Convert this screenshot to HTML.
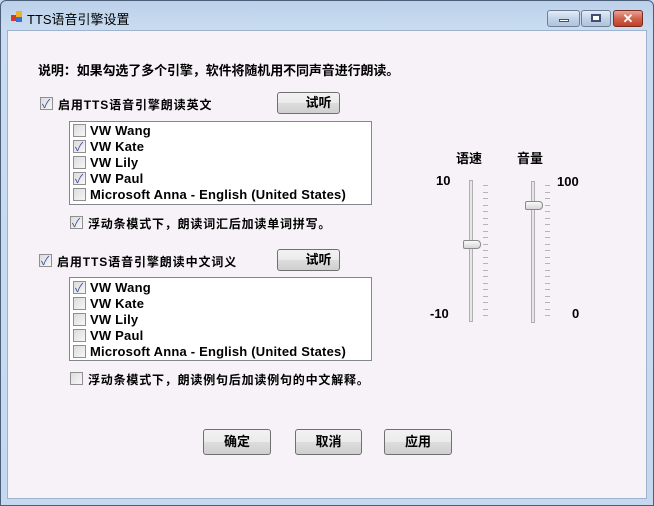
<!DOCTYPE html>
<html><head><meta charset="utf-8"><style>
*{box-sizing:border-box;margin:0;padding:0}
body{width:654px;height:506px;position:relative;overflow:hidden;background:#c9dcf1;font-family:"Liberation Sans","Noto Sans CJK SC",sans-serif;font-weight:bold;font-size:12px;color:#000}
.a{position:absolute;white-space:nowrap}
.c{letter-spacing:0.9px}
.l{font-size:13px;letter-spacing:0.2px}
.frame{left:0;top:0;width:654px;height:506px;background:linear-gradient(#bcd1ea,#c9dcf1 30px,#c4d9f0);border:1px solid #4b5f78;border-radius:6px 6px 0 0}
.client{left:7px;top:30px;width:640px;height:469px;background:#f6f2f7;border:1px solid #9fb3cc}
.cb{position:absolute;width:13px;height:13px;border:1px solid #8e8f8f;background:linear-gradient(135deg,#dcdcdc,#f7f7f7);}
.cb.on::after{content:"✓";position:absolute;left:1px;top:-3px;font-size:12px;color:#3d4f9b;font-weight:normal}
.btn{position:absolute;border:1px solid #707070;border-radius:3px;background:linear-gradient(#f2f2f2 0%,#ebebeb 50%,#dddddd 51%,#cfcfcf 100%);text-align:center;font-size:13px}
.lb{position:absolute;background:#fff;border:1px solid #828790}
.tick{position:absolute;width:5px;height:1px;background:#b5b5b5}
.wb{position:absolute;top:10px;height:17px;border:1px solid #6d7e95;border-radius:3px;background:linear-gradient(#e3ecf7,#c3d3e8 50%,#aec3de)}
.n{font-size:13px}
</style></head><body>
<div class="a frame"></div>
<div class="a" style="left:11px;top:11px;width:12px;height:12px">
<div class="a" style="left:0;top:4px;width:5px;height:6px;background:#d23b2a"></div>
<div class="a" style="left:5px;top:0;width:6px;height:6px;background:#f0b02a"></div>
<div class="a" style="left:5px;top:6px;width:6px;height:5px;background:#3b6fd2"></div></div>
<div class="a" style="left:27px;top:9px;font-weight:normal;font-size:13px">TTS语音引擎设置</div>
<div class="wb" style="left:547px;width:33px"><div class="a" style="left:11px;top:8px;width:10px;height:3px;background:#fff;border:1px solid #405070"></div></div>
<div class="wb" style="left:581px;width:30px"><div class="a" style="left:9px;top:3px;width:10px;height:8px;border:2px solid #405070;background:#fff"></div></div>
<div class="wb" style="left:613px;width:30px;background:linear-gradient(#e8a496,#d1624d 50%,#c0402a);border-color:#7a2b20;color:#fff;text-align:center;font-size:13px;line-height:15px">✕</div>
<div class="a client"></div>

<div class="a" style="left:38px;top:60px;font-size:13px;letter-spacing:-0.1px">说明：如果勾选了多个引擎，软件将随机用不同声音进行朗读。</div>

<div class="cb on" style="left:40px;top:97px"></div>
<div class="a c" style="left:58px;top:96px">启用TTS语音引擎朗读英文</div>
<div class="btn" style="left:277px;top:92px;width:63px;height:22px;line-height:20px;padding-left:20px">试听</div>
<div class="lb" style="left:69px;top:121px;width:303px;height:84px"></div>
<div class="cb" style="left:73px;top:124px"></div><div class="a l" style="left:90px;top:123px">VW Wang</div>
<div class="cb on" style="left:73px;top:140px"></div><div class="a l" style="left:90px;top:139px">VW Kate</div>
<div class="cb" style="left:73px;top:156px"></div><div class="a l" style="left:90px;top:155px">VW Lily</div>
<div class="cb on" style="left:73px;top:172px"></div><div class="a l" style="left:90px;top:171px">VW Paul</div>
<div class="cb" style="left:73px;top:188px"></div><div class="a l" style="left:90px;top:187px">Microsoft Anna - English (United States)</div>
<div class="cb on" style="left:70px;top:216px"></div>
<div class="a c" style="left:88px;top:215px;letter-spacing:0.8px">浮动条模式下，朗读词汇后加读单词拼写。</div>

<div class="cb on" style="left:39px;top:254px"></div>
<div class="a c" style="left:57px;top:253px">启用TTS语音引擎朗读中文词义</div>
<div class="btn" style="left:277px;top:249px;width:63px;height:22px;line-height:20px;padding-left:20px">试听</div>
<div class="lb" style="left:69px;top:277px;width:303px;height:84px"></div>
<div class="cb on" style="left:73px;top:281px"></div><div class="a l" style="left:90px;top:280px">VW Wang</div>
<div class="cb" style="left:73px;top:297px"></div><div class="a l" style="left:90px;top:296px">VW Kate</div>
<div class="cb" style="left:73px;top:313px"></div><div class="a l" style="left:90px;top:312px">VW Lily</div>
<div class="cb" style="left:73px;top:329px"></div><div class="a l" style="left:90px;top:328px">VW Paul</div>
<div class="cb" style="left:73px;top:345px"></div><div class="a l" style="left:90px;top:344px">Microsoft Anna - English (United States)</div>
<div class="cb" style="left:70px;top:372px"></div>
<div class="a c" style="left:88px;top:371px;letter-spacing:0.8px">浮动条模式下，朗读例句后加读例句的中文解释。</div>

<div class="btn" style="left:203px;top:429px;width:68px;height:26px;line-height:24px">确定</div>
<div class="btn" style="left:295px;top:429px;width:67px;height:26px;line-height:24px">取消</div>
<div class="btn" style="left:384px;top:429px;width:68px;height:26px;line-height:24px">应用</div>

<div class="a n" style="left:456px;top:148px">语速</div>
<div class="a n" style="left:517px;top:148px">音量</div>
<div class="a n" style="left:436px;top:173px">10</div>
<div class="a n" style="left:430px;top:306px">-10</div>
<div class="a n" style="left:557px;top:174px">100</div>
<div class="a n" style="left:572px;top:306px">0</div>
<div class="a" style="left:469px;top:180px;width:4px;height:142px;border:1px solid #b0b0b0;background:#e6e6e6"></div>
<div class="a" style="left:531px;top:181px;width:4px;height:142px;border:1px solid #b0b0b0;background:#e6e6e6"></div>
<div class="a" style="left:463px;top:240px;width:18px;height:9px;border:1px solid #8a8a8a;border-radius:2px 4px 4px 2px;background:linear-gradient(#fafafa,#d6d6d6)"></div>
<div class="a" style="left:525px;top:201px;width:18px;height:9px;border:1px solid #8a8a8a;border-radius:2px 4px 4px 2px;background:linear-gradient(#fafafa,#d6d6d6)"></div>
<div class="tick" style="left:483px;top:185px"></div><div class="tick" style="left:483px;top:191.5px"></div><div class="tick" style="left:483px;top:198px"></div><div class="tick" style="left:483px;top:204.5px"></div><div class="tick" style="left:483px;top:211px"></div><div class="tick" style="left:483px;top:217.5px"></div><div class="tick" style="left:483px;top:224px"></div><div class="tick" style="left:483px;top:230.5px"></div><div class="tick" style="left:483px;top:237px"></div><div class="tick" style="left:483px;top:243.5px"></div><div class="tick" style="left:483px;top:250px"></div><div class="tick" style="left:483px;top:256.5px"></div><div class="tick" style="left:483px;top:263px"></div><div class="tick" style="left:483px;top:269.5px"></div><div class="tick" style="left:483px;top:276px"></div><div class="tick" style="left:483px;top:282.5px"></div><div class="tick" style="left:483px;top:289px"></div><div class="tick" style="left:483px;top:295.5px"></div><div class="tick" style="left:483px;top:302px"></div><div class="tick" style="left:483px;top:308.5px"></div><div class="tick" style="left:483px;top:315px"></div>
<div class="tick" style="left:545px;top:185px"></div><div class="tick" style="left:545px;top:191.5px"></div><div class="tick" style="left:545px;top:198px"></div><div class="tick" style="left:545px;top:204.5px"></div><div class="tick" style="left:545px;top:211px"></div><div class="tick" style="left:545px;top:217.5px"></div><div class="tick" style="left:545px;top:224px"></div><div class="tick" style="left:545px;top:230.5px"></div><div class="tick" style="left:545px;top:237px"></div><div class="tick" style="left:545px;top:243.5px"></div><div class="tick" style="left:545px;top:250px"></div><div class="tick" style="left:545px;top:256.5px"></div><div class="tick" style="left:545px;top:263px"></div><div class="tick" style="left:545px;top:269.5px"></div><div class="tick" style="left:545px;top:276px"></div><div class="tick" style="left:545px;top:282.5px"></div><div class="tick" style="left:545px;top:289px"></div><div class="tick" style="left:545px;top:295.5px"></div><div class="tick" style="left:545px;top:302px"></div><div class="tick" style="left:545px;top:308.5px"></div><div class="tick" style="left:545px;top:315px"></div>
</body></html>
